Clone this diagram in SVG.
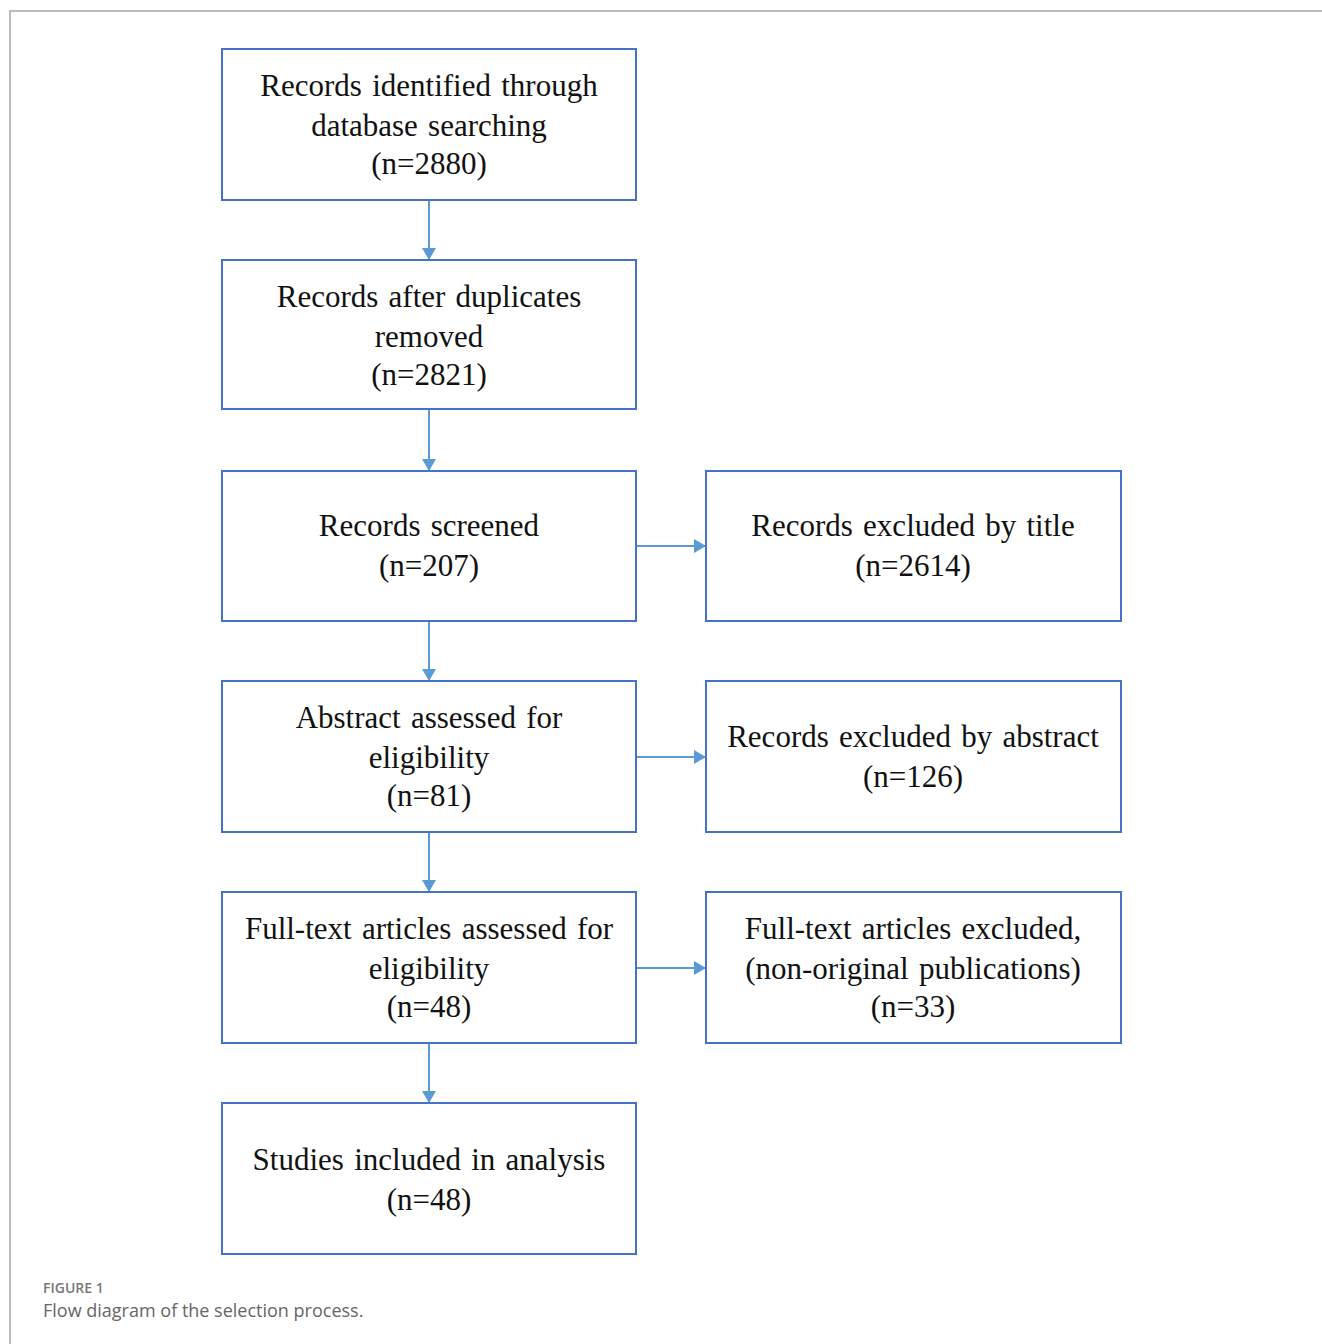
<svg xmlns="http://www.w3.org/2000/svg" width="1322" height="1344" viewBox="0 0 1322 1344">
<defs>
<style>
.box{fill:#fff;stroke:#4472C4;stroke-width:2}
.t{font-family:"Liberation Serif","Times New Roman",serif;font-size:31px;word-spacing:2.5px;fill:#111;text-anchor:middle}
.c{stroke:#5B9BD5;stroke-width:2;fill:none;marker-end:url(#ah)}
.frame{stroke:#bbb;stroke-width:2;fill:none}
.cap1{font-family:"Open Sans","Liberation Sans",sans-serif;font-size:14px;fill:#777;font-weight:600}
.cap2{font-family:"Open Sans","Liberation Sans",sans-serif;font-size:18px;fill:#666}
</style>
<marker id="ah" viewBox="0 0 12 14" refX="12" refY="7" markerWidth="12" markerHeight="14" markerUnits="userSpaceOnUse" orient="auto">
<path d="M0,0 L12,7 L0,14 z" fill="#5B9BD5"/>
</marker>
</defs>
<rect width="1322" height="1344" fill="#fff"/>
<path class="frame" d="M1322,11 H10 V1344"/>
<g id="connectors">
<line class="c" x1="429" y1="200" x2="429" y2="260"/>
<line class="c" x1="429" y1="409" x2="429" y2="471"/>
<line class="c" x1="429" y1="621" x2="429" y2="681"/>
<line class="c" x1="429" y1="832" x2="429" y2="892"/>
<line class="c" x1="429" y1="1043" x2="429" y2="1103"/>
<line class="c" x1="636" y1="546" x2="706" y2="546"/>
<line class="c" x1="636" y1="757" x2="706" y2="757"/>
<line class="c" x1="636" y1="968" x2="706" y2="968"/>
</g>
<g id="n1"><rect class="box" x="222" y="49" width="414" height="151"/>
<text class="t" x="429" y="96">Records identified  through</text>
<text class="t" x="429" y="136">database searching</text>
<text class="t" x="429" y="174">(n=2880)</text></g>
<g id="n2"><rect class="box" x="222" y="260" width="414" height="149"/>
<text class="t" x="429" y="307">Records after  duplicates</text>
<text class="t" x="429" y="347">removed</text>
<text class="t" x="429" y="385">(n=2821)</text></g>
<g id="n3"><rect class="box" x="222" y="471" width="414" height="150"/>
<text class="t" x="429" y="536">Records screened</text>
<text class="t" x="429" y="576">(n=207)</text></g>
<g id="n4"><rect class="box" x="706" y="471" width="415" height="150"/>
<text class="t" x="913" y="536">Records excluded  by title</text>
<text class="t" x="913" y="576">(n=2614)</text></g>
<g id="n5"><rect class="box" x="222" y="681" width="414" height="151"/>
<text class="t" x="429" y="728">Abstract assessed for</text>
<text class="t" x="429" y="768">eligibility</text>
<text class="t" x="429" y="806">(n=81)</text></g>
<g id="n6"><rect class="box" x="706" y="681" width="415" height="151"/>
<text class="t" x="913" y="747">Records excluded  by abstract</text>
<text class="t" x="913" y="787">(n=126)</text></g>
<g id="n7"><rect class="box" x="222" y="892" width="414" height="151"/>
<text class="t" x="429" y="939">Full-text  articles  assessed for</text>
<text class="t" x="429" y="979">eligibility</text>
<text class="t" x="429" y="1017">(n=48)</text></g>
<g id="n8"><rect class="box" x="706" y="892" width="415" height="151"/>
<text class="t" x="913" y="939">Full-text  articles  excluded,</text>
<text class="t" x="913" y="979">(non-original  publications)</text>
<text class="t" x="913" y="1017">(n=33)</text></g>
<g id="n9"><rect class="box" x="222" y="1103" width="414" height="151"/>
<text class="t" x="429" y="1170">Studies  included  in  analysis</text>
<text class="t" x="429" y="1210">(n=48)</text></g>
<text class="cap1" x="43" y="1293">FIGURE 1</text>
<text class="cap2" x="43" y="1317">Flow diagram of the selection process.</text>
</svg>
